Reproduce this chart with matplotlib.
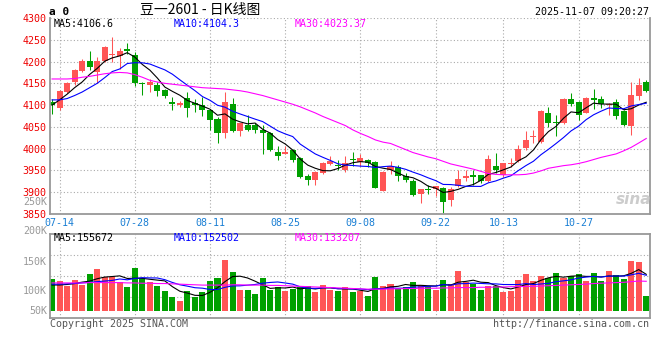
import numpy as np
import matplotlib
matplotlib.use('Agg')
import matplotlib.pyplot as plt

plt.rcParams['font.family'] = ['DejaVu Sans Mono']

# trading days shown on the chart
dates = ['07-11', '07-14', '07-15', '07-16', '07-17', '07-18', '07-21', '07-22', '07-23', '07-24',
         '07-25', '07-28', '07-29', '07-30', '07-31', '08-01', '08-04', '08-05', '08-06', '08-07',
         '08-08', '08-11', '08-12', '08-13', '08-14', '08-15', '08-18', '08-19', '08-20', '08-21',
         '08-22', '08-25', '08-26', '08-27', '08-28', '08-29', '09-01', '09-02', '09-03', '09-04',
         '09-05', '09-08', '09-09', '09-10', '09-11', '09-12', '09-15', '09-16', '09-17', '09-18',
         '09-19', '09-22', '09-23', '09-24', '09-25', '09-26', '09-29', '09-30', '10-09', '10-10',
         '10-13', '10-14', '10-15', '10-16', '10-17', '10-20', '10-21', '10-22', '10-23', '10-24',
         '10-27', '10-28', '10-29', '10-30', '10-31', '11-03', '11-04', '11-05', '11-06', '11-07']
tick_dates = ['07-14', '07-28', '08-11', '08-25', '09-08', '09-22', '10-13', '10-27']

opens = [4107, 4094, 4131, 4152, 4179, 4201, 4176, 4201, 4214, 4213,
         4228, 4215, 4151, 4146, 4146, 4134, 4107, 4100, 4116, 4104,
         4100, 4089, 4067, 4037, 4103, 4041, 4054, 4054, 4043, 4037,
         3992, 3988, 3997, 3978, 3937, 3927, 3945, 3965, 3962, 3950,
         3977, 3970, 3974, 3969, 3903, 3950, 3959, 3937, 3926, 3897,
         3907, 3907, 3910, 3882, 3914, 3932, 3939, 3939, 3926, 3960,
         3940, 3965, 3972, 4001, 4026, 4016, 4083, 4062, 4058, 4114,
         4106, 4083, 4116, 4114, 4100, 4106, 4087, 4051, 4121, 4152]
closes = [4101, 4132, 4151, 4180, 4201, 4188, 4201, 4234, 4218, 4224,
          4225, 4151, 4149, 4153, 4133, 4121, 4102, 4104, 4093, 4101,
          4089, 4066, 4035, 4108, 4041, 4058, 4043, 4044, 4037, 3997,
          3983, 3993, 3974, 3934, 3927, 3947, 3966, 3972, 3960, 3966,
          3975, 3978, 3966, 3910, 3947, 3960, 3937, 3928, 3894, 3907,
          3904, 3914, 3878, 3907, 3930, 3937, 3936, 3926, 3976, 3951,
          3968, 3968, 3999, 4020, 4030, 4087, 4060, 4058, 4114, 4103,
          4077, 4117, 4112, 4103, 4103, 4075, 4054, 4123, 4146, 4132]
highs = [4115, 4135, 4153, 4183, 4205, 4224, 4210, 4236, 4256, 4230,
         4242, 4223, 4154, 4161, 4153, 4138, 4119, 4110, 4131, 4113,
         4119, 4091, 4073, 4131, 4116, 4059, 4077, 4058, 4054, 4038,
         4005, 4005, 3999, 3980, 3942, 3949, 3969, 3983, 3974, 3983,
         3992, 3988, 3976, 3972, 3948, 3972, 3962, 3945, 3930, 3907,
         3917, 3915, 3913, 3913, 3951, 3951, 3950, 3940, 3985, 3991,
         3968, 3978, 4008, 4040, 4042, 4089, 4095, 4078, 4117, 4127,
         4110, 4118, 4136, 4121, 4104, 4113, 4089, 4152, 4162, 4158]
lows = [4080, 4089, 4128, 4146, 4177, 4181, 4150, 4199, 4200, 4183,
        4218, 4144, 4123, 4131, 4120, 4116, 4089, 4096, 4073, 4085,
        4075, 4043, 4013, 4024, 4039, 4028, 4040, 4035, 3988, 3995,
        3975, 3987, 3970, 3932, 3917, 3917, 3942, 3962, 3951, 3947,
        3961, 3960, 3959, 3909, 3903, 3942, 3925, 3924, 3891, 3876,
        3896, 3891, 3852, 3868, 3911, 3926, 3917, 3922, 3924, 3943,
        3936, 3957, 3969, 3997, 4012, 4014, 4050, 4028, 4057, 4099,
        4066, 4081, 4090, 4093, 4077, 4067, 4051, 4031, 4112, 4129]

ma5 = [4100, 4112, 4125, 4140, 4153, 4170.4, 4184.2, 4200.8, 4208.4, 4213,
       4220.4, 4210.4, 4193.4, 4180.4, 4162.2, 4141.4, 4131.6, 4122.6, 4110.6, 4104.2,
       4097.8, 4090.6, 4076.8, 4079.8, 4067.8, 4061.6, 4057, 4058.8, 4044.6, 4035.8,
       4020.8, 4010.8, 3996.8, 3976.2, 3962.2, 3955, 3949.6, 3949.2, 3954.4, 3962.2,
       3967.8, 3970.2, 3969, 3959, 3955.2, 3952.2, 3944, 3936.4, 3933.2, 3925.2,
       3914, 3909.4, 3899.4, 3902, 3906.6, 3913.2, 3917.6, 3927.2, 3941, 3945.2,
       3951.4, 3957.8, 3972.4, 3981.2, 3997, 4020.8, 4039.2, 4051, 4069.8, 4084.4,
       4082.4, 4093.8, 4104.6, 4102.4, 4102.4, 4102, 4089.4, 4091.6, 4100.2, 4106.6]
ma10 = [4112, 4112, 4115, 4122, 4130, 4140, 4150, 4163, 4177, 4183,
        4195.4, 4197.3, 4197.1, 4194.4, 4187.6, 4180.9, 4171, 4158, 4145.5, 4133.2,
        4119.6, 4111.1, 4099.7, 4095.2, 4086, 4079.7, 4073.8, 4067.8, 4062.2, 4051.8,
        4041.2, 4033.9, 4027.8, 4010.4, 3999, 3987.9, 3980.2, 3973, 3965.3, 3962.2,
        3961.4, 3959.9, 3959.1, 3956.7, 3958.7, 3960, 3957.1, 3952.7, 3946.1, 3940.2,
        3933.1, 3926.7, 3917.9, 3917.6, 3915.9, 3913.6, 3913.5, 3913.3, 3921.5, 3925.9,
        3932.3, 3937.7, 3949.8, 3961.1, 3971.1, 3986.1, 3998.5, 4011.7, 4025.5, 4040.7,
        4051.6, 4066.5, 4077.8, 4086.1, 4093.4, 4092.2, 4091.6, 4098.1, 4101.3, 4104.3]
ma30 = [4160, 4160, 4160, 4161, 4164, 4166, 4169, 4172, 4174, 4175,
        4174, 4170, 4164, 4157, 4153, 4150, 4148, 4146, 4144, 4142,
        4140, 4139, 4138, 4137, 4135, 4133, 4130, 4126, 4122, 4117,
        4112, 4107, 4102, 4096, 4089, 4082, 4074, 4067, 4060, 4053,
        4043, 4035, 4028, 4020, 4015, 4012, 4005, 3998, 3991, 3986,
        3981, 3977, 3971, 3965, 3961, 3957, 3953, 3948, 3943, 3941,
        3940, 3940, 3940, 3941, 3944, 3949, 3955, 3958, 3961, 3963,
        3966, 3970, 3975, 3980, 3984, 3988, 3995, 4003, 4013, 4023.37]

volume = [140600, 134200, 119200, 137400, 121300, 156600, 172700, 146000, 146000, 132000,
          114900, 175900, 144900, 131000, 118100, 102100, 83900, 71000, 102100, 81800,
          99900, 134200, 143800, 201600, 163100, 105300, 105300, 92400, 143800, 105300,
          114900, 102100, 107400, 114900, 119200, 98900, 121300, 105300, 103100, 113900,
          98900, 101000, 86000, 147000, 118100, 124500, 109600, 116000, 131000, 120200,
          118100, 105300, 137400, 124500, 166300, 131000, 124500, 105300, 118100, 118100,
          98900, 103100, 137400, 156600, 134200, 150200, 143800, 159900, 143800, 150200,
          156600, 134200, 159900, 134200, 166300, 153400, 140600, 198400, 195200, 86000]
vol_ma5 = [121300, 121300, 123000, 126000, 130500, 133700, 141400, 146800, 148500, 150700,
           142300, 143000, 142700, 139700, 137000, 134400, 116000, 101200, 95400, 88200,
           87700, 97800, 112400, 132300, 148500, 149600, 143800, 133500, 122000, 110400,
           112300, 111700, 114700, 108900, 111700, 108500, 112300, 111900, 109600, 108500,
           108500, 104400, 100600, 109400, 110200, 115300, 117000, 123000, 119800, 120300,
           119000, 118100, 122400, 121100, 130300, 132900, 136700, 130300, 129000, 119400,
           113000, 108700, 115100, 122800, 126000, 136300, 144400, 148900, 146400, 149600,
           150900, 148900, 148900, 147000, 150200, 149600, 150900, 158600, 170800, 155672]
vol_ma10 = [124000, 124000, 125000, 126000, 128000, 130000, 132000, 134000, 136000, 140600,
            138000, 142200, 144800, 144100, 143800, 138400, 129500, 122000, 117600, 112600,
            111100, 106900, 106800, 113900, 118400, 118700, 120800, 123000, 127100, 129500,
            131000, 127800, 124100, 115500, 111100, 110400, 112000, 113300, 109200, 110100,
            108500, 108400, 106300, 109500, 109400, 111900, 110700, 111800, 114600, 115200,
            117200, 117600, 122700, 120500, 125300, 125900, 127400, 126400, 125100, 124900,
            122900, 122700, 122700, 125900, 122700, 124600, 126600, 132000, 134600, 137800,
            143600, 146700, 148900, 146700, 149900, 150200, 149900, 153800, 158900, 152502]
vol_ma30 = [128000, 128000, 128000, 128000, 128000, 129000, 129000, 129000, 129000, 129000,
            128000, 128000, 127000, 127000, 126000, 126000, 125000, 124000, 123000, 122000,
            121000, 121000, 121000, 121000, 122000, 122000, 121000, 121000, 121000, 120000,
            120000, 119000, 118000, 117000, 116000, 115000, 114000, 113000, 112000, 111000,
            110000, 109000, 108000, 108000, 108000, 109000, 109000, 110000, 110000, 111000,
            111000, 111000, 112000, 112000, 113000, 113000, 113000, 114000, 114000, 115000,
            115000, 116000, 116000, 117000, 117000, 118000, 119000, 120000, 121000, 122000,
            123000, 124000, 126000, 127000, 128000, 129000, 130000, 132000, 134000, 133207]

RED = '#ff5555'
GREEN = '#00a000'
GRID = dict(color='#aaaaaa', linestyle=(0, (1, 2)), linewidth=0.8)
W, H = 660, 360


def px_rect(l, t, r, b):
    return [l / W, 1 - b / H, (r - l) / W, (b - t) / H]


def fig_text(x, y, s, **kw):
    fig.text(x / W, 1 - y / H, s, va='center', **kw)


o, c, hi, lo = map(np.array, (opens, closes, highs, lows))
x = np.arange(len(c))
col = np.where(c >= o, RED, GREEN)
ticks = [dates.index(d) for d in tick_dates]

fig = plt.figure(figsize=(6.6, 3.6), dpi=100)
ax = fig.add_axes(px_rect(50, 18, 650, 214))
axv = fig.add_axes(px_rect(50, 234, 650, 318))

# price panel
ax.vlines(x, lo, hi, colors=col, lw=0.75)
ax.bar(x, np.maximum(np.abs(c - o), 2.3), bottom=np.minimum(o, c), width=0.8, color=col, lw=0)
ax.plot(x, ma5, color='black', lw=0.8)
ax.plot(x, ma10, color='#0000ff', lw=0.8)
ax.plot(x, ma30, color='#ff00ff', lw=0.8)
ax.set_xlim(-0.27, 79.5)
ax.set_ylim(3850, 4300)
ax.set_yticks(range(3850, 4301, 50))
ax.set_xticks(ticks)
ax.set_xticklabels(tick_dates)
ax.grid(True, **GRID)
ax.set_axisbelow(True)
ax.tick_params(axis='y', length=0, pad=2.5, labelsize=7.2, labelcolor='#ee0000')
ax.tick_params(axis='x', length=0, pad=3, labelsize=7.2, labelcolor='#1a7fd4')

# volume panel
vol_base = 37900
v = np.array(volume)
axv.bar(x, v - vol_base, bottom=vol_base, width=0.8, color=col, lw=0)
axv.plot(x, vol_ma5, color='black', lw=0.8)
axv.plot(x, vol_ma10, color='#0000ff', lw=0.8)
axv.plot(x, vol_ma30, color='#ff00ff', lw=0.8)
vlo, vhi = 15400, 285000
axv.set_xlim(-0.27, 79.5)
axv.set_ylim(vlo, vhi)
axv.set_yticks([vlo + k * (vhi - vlo) / 4 for k in (1, 2, 3)])
axv.set_xticks(ticks)
axv.grid(True, **GRID)
axv.set_axisbelow(True)
axv.tick_params(length=0, labelleft=False, labelbottom=False)

for a in (ax, axv):
    for s in a.spines.values():
        s.set_color('#999999')
        s.set_linewidth(1.3)
ax.spines['top'].set_visible(False)

# header
fig_text(49, 12, 'a 0', fontsize=8, fontweight='bold')
fig_text(200, 10, '豆一2601 - 日K线图', ha='center', fontsize=10,
         family=['Noto Sans CJK SC', 'DejaVu Sans'])
fig_text(649, 12, '2025-11-07 09:20:27', ha='right', fontsize=7.2)

# legends
fig_text(54, 24, f'MA5:{ma5[-1]:.1f}', fontsize=7.2, color='black')
fig_text(174, 24, f'MA10:{ma10[-1]:.1f}', fontsize=7.2, color='#0000ff')
fig_text(295, 24, f'MA30:{ma30[-1]:.2f}', fontsize=7.2, color='#ff00ff')
fig_text(54, 238, f'MA5:{vol_ma5[-1]}', fontsize=7.2, color='black')
fig_text(174, 238, f'MA10:{vol_ma10[-1]}', fontsize=7.2, color='#0000ff')
fig_text(295, 238, f'MA30:{vol_ma30[-1]}', fontsize=7.2, color='#ff00ff')

# volume axis labels
for lab, yy in [('250K', 202), ('200K', 231), ('150K', 262), ('100K', 291), ('50K', 311)]:
    fig_text(47, yy, lab, ha='right', fontsize=7.2, color='#999999')

fig_text(50, 324, 'Copyright 2025 SINA.COM', fontsize=7.2, color='#555555')
fig_text(649, 324, 'http://finance.sina.com.cn', ha='right', fontsize=7.2, color='#555555')
fig_text(634, 199, 'sina', ha='center', fontsize=11, fontweight='bold', style='italic',
         color='#cccccc', family=['DejaVu Sans'])

fig.savefig('out.png', dpi=100)
